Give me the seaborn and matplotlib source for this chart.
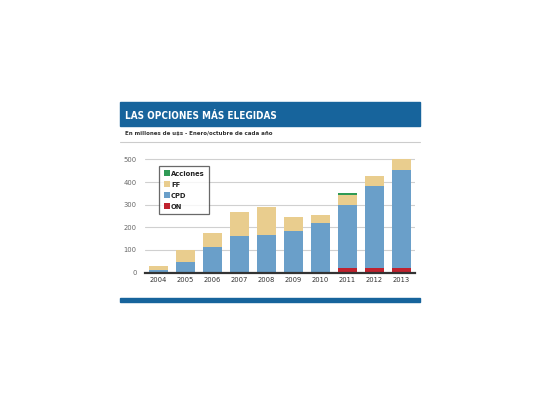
#!/usr/bin/env python3
"""Stacked bars: las opciones más elegidas (millones de u$s, enero/octubre)."""

import pandas as pd
import seaborn as sns
import matplotlib.pyplot as plt
from matplotlib.patches import Rectangle
from matplotlib.lines import Line2D

# Data
years = ['2004', '2005', '2006', '2007', '2008', '2009', '2010', '2011', '2012', '2013']
on_vals = [0, 0, 0, 0, 0, 0, 0, 21, 21, 22]
cpd_vals = [13, 48, 112, 162, 165, 183, 220, 277, 362, 431]
ff_vals = [17, 50, 65, 107, 125, 62, 34, 46, 43, 47]
acciones_vals = [0, 0, 0, 0, 0, 0, 0, 7, 0, 0]
yticks = [0, 100, 200, 300, 400, 500]

title = 'LAS OPCIONES MÁS ELEGIDAS'
subtitle = 'En millones de u$s - Enero/octubre de cada año'

colors = {
    'ON': '#c0222e',
    'CPD': '#6a9fc9',
    'FF': '#e9cd8e',
    'Acciones': '#2f9a55',
}
dark_blue = '#17649c'

df = pd.DataFrame({
    'year': years,
    'ON': on_vals,
    'CPD': cpd_vals,
    'FF': ff_vals,
    'Acciones': acciones_vals,
})
order = ['ON', 'CPD', 'FF', 'Acciones']
cum = df[order].cumsum(axis=1)

sns.set_theme(style='white')
plt.rcParams['font.family'] = ['DejaVu Sans']
plt.rcParams['font.stretch'] = 'condensed'

fig = plt.figure(figsize=(5.4, 4.05), dpi=100)
ax = fig.add_axes([0.2685, 0.327, 0.5, 0.282])

# draw the tallest cumulative layer first so lower ones sit on top
for layer in reversed(order):
    sns.barplot(x=df['year'], y=cum[layer], color=colors[layer],
                width=0.67, saturation=1, linewidth=0, ax=ax, zorder=2)

ax.set_ylim(0, 505)
ax.set_xlim(-0.5, len(years) - 0.5)
ax.set_yticks(yticks)
ax.set_yticklabels([str(v) for v in yticks])
ax.set_xlabel('')
ax.set_ylabel('')
ax.yaxis.grid(True, color='#d0d0d0', linewidth=0.8, zorder=0)
ax.set_axisbelow(True)
for side in ['top', 'right', 'left']:
    ax.spines[side].set_visible(False)
ax.spines['bottom'].set_color('#333333')
ax.spines['bottom'].set_linewidth(1.6)
ax.tick_params(axis='y', length=0, pad=6, labelsize=5.4, labelcolor='#666666')
ax.tick_params(axis='x', length=0, pad=3, labelsize=5.4, labelcolor='#333333')

handles = [Line2D([], [], marker='s', linestyle='', markersize=4.5,
                  markerfacecolor=colors[k], markeredgewidth=0, label=k)
           for k in ['Acciones', 'FF', 'CPD', 'ON']]
leg = ax.legend(handles=handles, loc='upper left', bbox_to_anchor=(0.052, 0.935),
                borderaxespad=0, frameon=True, fancybox=False, handletextpad=0.1,
                handlelength=0.9, labelspacing=0.65, borderpad=0.6,
                prop={'size': 5.4, 'weight': 'bold', 'stretch': 'condensed'})
leg.get_frame().set_edgecolor('#444444')
leg.get_frame().set_linewidth(0.9)
for t in leg.get_texts():
    t.set_color('#222222')

# header band, subtitle and rules
fig.patches.append(Rectangle((0.2222, 0.6896), 0.5556, 0.0578,
                             transform=fig.transFigure, color=dark_blue, zorder=0))
fig.text(0.2315, 0.7136, title, color='white', fontsize=7.1, fontweight='bold',
         fontstretch='condensed', va='center', ha='left')
fig.text(0.2315, 0.6704, subtitle, color='#333333', fontsize=4.4, fontweight='bold',
         fontstretch='condensed', va='center', ha='left')
fig.lines.append(Line2D([0.2222, 0.7778], [0.6506, 0.6506], transform=fig.transFigure,
                        color='#cccccc', linewidth=0.8))
fig.patches.append(Rectangle((0.2222, 0.2543), 0.5556, 0.0099,
                             transform=fig.transFigure, color=dark_blue, zorder=0))

fig.savefig('out.png', dpi=100)
